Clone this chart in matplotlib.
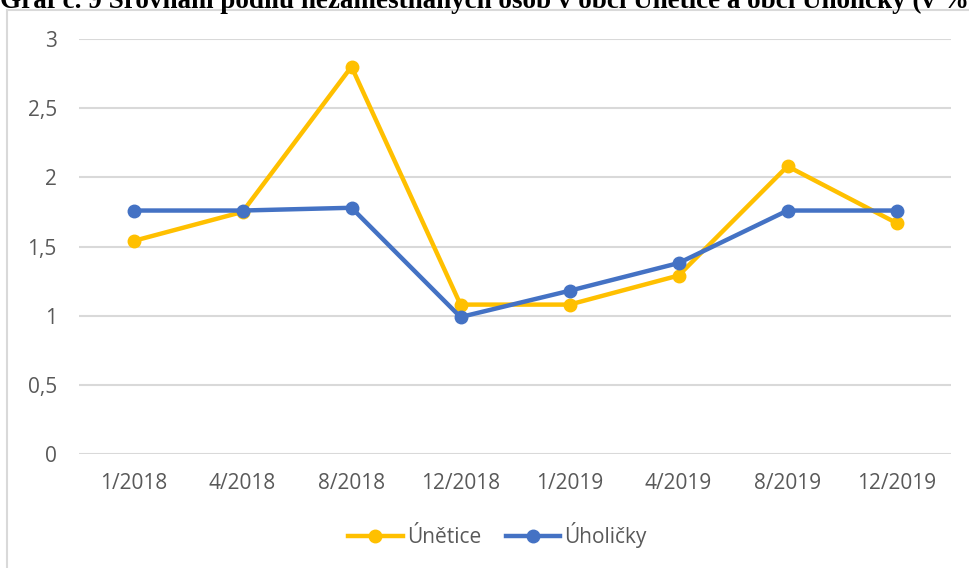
import matplotlib.pyplot as plt
from matplotlib.patches import Rectangle
from matplotlib.ticker import FuncFormatter

# Data
months = ["1/2018", "4/2018", "8/2018", "12/2018", "1/2019", "4/2019", "8/2019", "12/2019"]
unetice = [1.54, 1.75, 2.80, 1.08, 1.08, 1.29, 2.08, 1.67]
uholicky = [1.76, 1.76, 1.78, 0.99, 1.18, 1.38, 1.76, 1.76]

W, H = 969, 568
fig = plt.figure(figsize=(W / 100, H / 100), dpi=100)

# chart frame (cut by the image edges on right and bottom)
fig.patches.append(Rectangle((7 / W, -0.1), 1.2, 1 - 10 / H + 0.1, transform=fig.transFigure,
                             fill=False, edgecolor="#D9D9D9", linewidth=1.5))

# title, top part clipped off like in the scan
fig.text(0.0, 1 - 8 / H, "Graf č. 9 Srovnání podílu nezaměstnaných osob v obci Únětice a obci Úholičky (v %)",
         family="Liberation Serif", fontweight="bold", fontsize=19.5, va="baseline", ha="left")

ax = fig.add_axes([79 / W, 1 - 454 / H, (951 - 79) / W, (454 - 39) / H])
x = range(len(months))
ax.plot(x, unetice, color="#FFC000", linewidth=3.2, marker="o", markersize=9, label="Únětice", zorder=3)
ax.plot(x, uholicky, color="#4472C4", linewidth=3.2, marker="o", markersize=9, label="Úholičky", zorder=4)

ax.set_xlim(-0.5, len(months) - 0.5)
ax.set_ylim(0, 3)
ax.set_yticks([0, 0.5, 1, 1.5, 2, 2.5, 3])
ax.yaxis.set_major_formatter(FuncFormatter(lambda v, p: ("%g" % v).replace(".", ",")))
ax.set_xticks(list(x))
ax.set_xticklabels(months)
ax.grid(axis="y", color="#D9D9D9", linewidth=1.5)
ax.set_axisbelow(True)
for s in ax.spines.values():
    s.set_visible(False)
ax.tick_params(length=0, labelsize=15, labelcolor="#595959")
ax.tick_params(axis="y", pad=16)
ax.tick_params(axis="x", pad=14)
for lab in ax.get_xticklabels() + ax.get_yticklabels():
    lab.set_family("Open Sans")

leg = ax.legend(loc="center", bbox_to_anchor=(0.48, (535 - 454) / -(454 - 39)), ncol=2, frameon=False,
                prop={"family": "Open Sans", "size": 15}, handlelength=2.6, handletextpad=0.2, columnspacing=1.2)
for t in leg.get_texts():
    t.set_color("#595959")

fig.savefig("out.png", dpi=100)
